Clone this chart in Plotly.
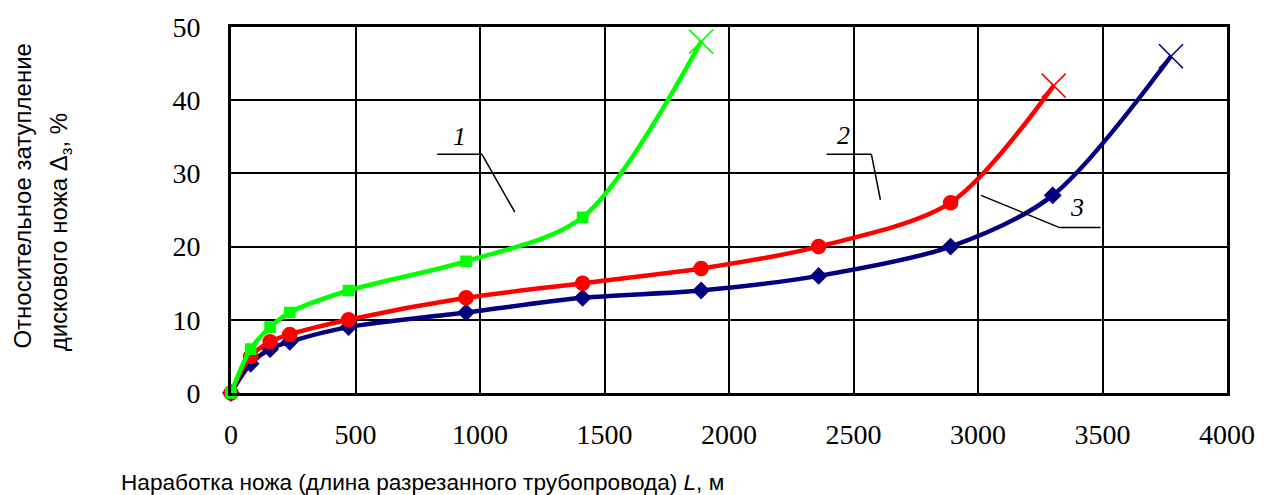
import plotly.graph_objects as go

# ---- data ----
x_green = [0, 79, 157, 236, 472, 944, 1412, 1888]
y_green = [0, 6, 9, 11, 14, 18, 24, 48]

x_red = [0, 79, 157, 236, 472, 944, 1412, 1888, 2360, 2890, 3304]
y_red = [0, 5, 7, 8, 10, 13, 15, 17, 20, 26, 42]

x_blue = [0, 79, 157, 236, 472, 944, 1412, 1888, 2360, 2890, 3300, 3775]
y_blue = [0, 4, 6, 7, 9, 11, 13, 14, 16, 20, 27, 46]

x_ticks = [0, 500, 1000, 1500, 2000, 2500, 3000, 3500, 4000]
y_ticks = [0, 10, 20, 30, 40, 50]

labels = ["1", "2", "3"]
label_pos = [(916, 35.0), (2460, 35.2), (3396, 25.3)]
leaders = [
    [(828, 32.6), (1008, 32.6), (1140, 24.7)],
    [(2392, 32.6), (2572, 32.6), (2608, 26.4)],
    [(3012, 27.0), (3328, 22.6), (3492, 22.6)],
]

W, H = 1267, 495
L, R, T, B = 231, 35, 26, 102
SERIF = "Liberation Serif, Times New Roman, serif"
SANS = "Liberation Sans, Arial, sans-serif"

fig = go.Figure()

def add_series(xs, ys, color, sym, size):
    n = len(xs)
    symbols = [sym] * (n - 1) + ["x-thin"]
    sizes = [size] * (n - 1) + [24]
    fig.add_trace(go.Scatter(
        x=xs, y=ys, mode="lines+markers",
        line=dict(color=color, width=4.5, shape="spline", smoothing=0.85),
        marker=dict(symbol=symbols, size=sizes, color=color, opacity=1,
                    line=dict(color=color, width=1.6)),
        cliponaxis=False, showlegend=False, hoverinfo="skip",
    ))

add_series(x_blue, y_blue, "#000080", "diamond", 12)
add_series(x_red, y_red, "#ff0000", "circle", 14)
add_series(x_green, y_green, "#00ff00", "square", 10)

for pts in leaders:
    for (x0, y0), (x1, y1) in zip(pts[:-1], pts[1:]):
        fig.add_shape(type="line", x0=x0, y0=y0, x1=x1, y1=y1,
                      xref="x", yref="y", line=dict(color="black", width=1.5))

for t, (lx, ly) in zip(labels, label_pos):
    fig.add_annotation(x=lx, y=ly, xref="x", yref="y", text="<i>%s</i>" % t,
                       showarrow=False,
                       font=dict(family=SERIF, size=26, color="black"))

def px(xp):
    return (xp - L) / (W - L - R)

def py(yp):
    return (H - B - yp) / (H - T - B)

fig.add_annotation(x=px(21), y=py(195), xref="paper", yref="paper",
                   text="Относительное затупление", textangle=-90,
                   showarrow=False, xanchor="center", yanchor="middle",
                   font=dict(family=SANS, size=24, color="black"))
fig.add_annotation(x=px(60), y=py(232), xref="paper", yref="paper",
                   text="дискового ножа Δ<sub>з</sub>, %", textangle=-90,
                   showarrow=False, xanchor="center", yanchor="middle",
                   font=dict(family=SANS, size=24, color="black"))
fig.add_annotation(x=px(118), y=py(483), xref="paper", yref="paper",
                   text="Наработка ножа (длина разрезанного трубопровода) <i>L</i>, м",
                   showarrow=False, xanchor="left", yanchor="middle",
                   font=dict(family=SANS, size=22.6, color="black"))

fig.update_layout(
    width=W, height=H, autosize=False,
    margin=dict(l=L, r=R, t=T, b=B),
    plot_bgcolor="white", paper_bgcolor="white",
    font=dict(family=SERIF, size=24, color="black"),
    xaxis=dict(range=[0, 4000], tickvals=x_ticks, showgrid=True,
               gridcolor="black", gridwidth=2, zeroline=False,
               showline=True, mirror=True, linecolor="black", linewidth=3,
               ticks="", ticklabelstandoff=14,
               tickfont=dict(family=SERIF, size=28, color="black")),
    yaxis=dict(range=[0, 50], tickvals=y_ticks, showgrid=True,
               gridcolor="black", gridwidth=2, zeroline=False,
               showline=True, mirror=True, linecolor="black", linewidth=3,
               ticks="", ticklabelstandoff=22,
               tickfont=dict(family=SERIF, size=28, color="black")),
)

fig.write_html("out.html", config={"displayModeBar": False},
               post_script="document.body.style.margin='0';document.body.style.overflow='hidden';")
